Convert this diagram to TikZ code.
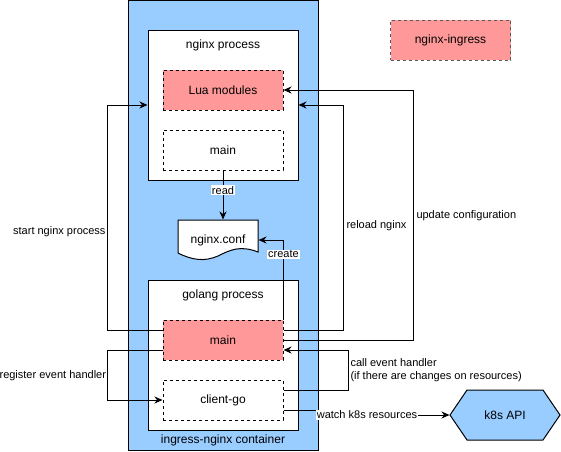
\documentclass[tikz,border=0pt]{standalone}
\usepackage{fontspec}
\setmainfont{Liberation Sans}
\usetikzlibrary{arrows.meta}
\definecolor{boxblue}{HTML}{99CCFF}
\definecolor{boxred}{HTML}{FF9999}

\begin{document}
\begin{tikzpicture}[x=1pt, y=-1pt, line width=1pt, >={Stealth[length=8pt,width=7pt,inset=2.5pt]},
  proc/.style = {draw, fill=white, minimum width=150pt, minimum height=150pt, inner sep=0pt},
  module/.style = {draw, dashed, minimum width=120pt, minimum height=40pt, inner sep=0pt, font=\fontsize{12}{14}\selectfont},
  txt/.style = {font=\fontsize{12}{14}\selectfont, inner sep=0pt},
  lbl/.style = {font=\fontsize{11}{13}\selectfont, inner sep=1pt}]
\fill[white] (0,0) rectangle (561,451);
\useasboundingbox (0,0) rectangle (561,451);
\node[draw, fill=boxblue, minimum width=190pt, minimum height=450pt, inner sep=0pt] (ctr) at (223,225) {};
\node[txt] (ctrtxt) at (223,440) {ingress-nginx container};
\node[proc] (nproc) at (223,105) {};
\node[txt] (nproctxt) at (223,45) {nginx process};
\node[module, fill=boxred] (lua) at (223,90) {Lua modules};
\node[module, fill=white] (nmain) at (223,150) {main};
\node[proc] (gproc) at (223,355) {};
\node[txt] (gproctxt) at (223,295) {golang process};
\node[module, fill=boxred] (gmain) at (223,340) {main};
\node[module, fill=white] (client) at (223,400) {client-go};
\node[module, fill=boxred, draw=black!65] (legend) at (450.5,40) {nginx-ingress};
\draw[fill=white] (178,220) -- (258,220) -- (258,252) .. controls (240,245) and (230,250) .. (218,256)
  .. controls (204,262) and (192,260) .. (178,253) -- cycle;
\node[txt, minimum width=80pt, minimum height=40pt] (conf) at (218,240) {nginx.conf};
\draw[fill=boxblue] (450,415) -- (467,390) -- (543,390) -- (560,415) -- (543,440) -- (467,440) -- cycle;
\node[txt, minimum width=110pt, minimum height=50pt] (k8s) at (505,415) {k8s API};

\draw[->] (nmain.south) -- (nmain.south |- conf.north) node[pos=0.4, lbl, fill=white] {read};
\draw[->] (gmain.north east) |- (conf.east) node[pos=0.41, lbl, fill=white] {create};
\draw[->] ([yshift=10pt]gmain.west) -- ++(-55,0) |- (nproc.west);
\draw[->] ([yshift=-10pt]gmain.west) -- ++(-55,0) |- (client.west);
\draw[->] ([yshift=10pt]gmain.east) -- ++(60,0) |- (nproc.east);
\draw[->] (gmain.east) -- ++(130,0) |- (lua.east);
\draw[->] ([yshift=10pt]client.east) -- ++(65,0) |- ([yshift=-10pt]gmain.east);
\draw[->] ([yshift=-10pt]client.east) -- (340,410) |- (k8s.west);
\node[lbl, fill=white] (watchtxt) at (367,415) {watch k8s resources};
\node[lbl, anchor=east, inner sep=0pt] (starttxt) at (106,232) {start nginx process};
\node[lbl, anchor=east, inner sep=0pt] (regtxt) at (106.5,376) {register event handler};
\node[lbl, anchor=west, inner sep=0pt] (reloadtxt) at (346,226) {reload nginx};
\node[lbl, anchor=west, inner sep=0pt] (updtxt) at (416,216) {update configuration};
\node[lbl, anchor=west, align=left, inner sep=0pt] (calltxt) at (350,370) {call event handler\\(if there are changes on resources)};
\end{tikzpicture}
\end{document}
